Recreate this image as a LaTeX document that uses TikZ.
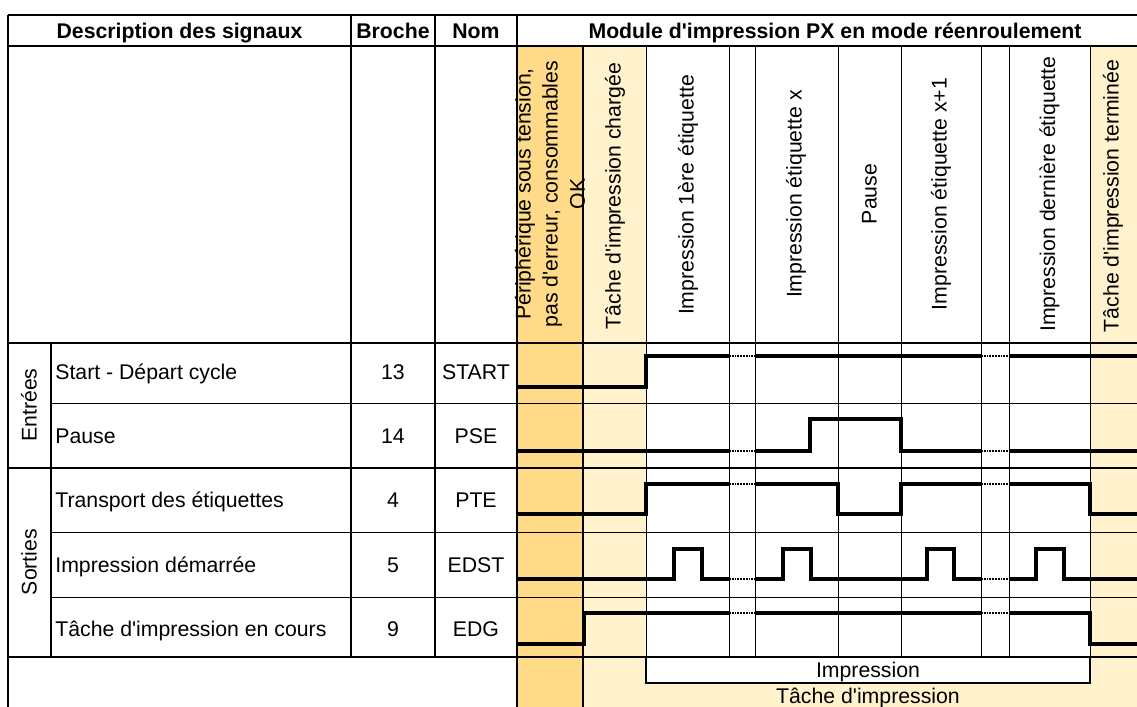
\documentclass[tikz,border=0pt]{standalone}
\usepackage{fontspec}
\setmainfont{Liberation Sans}[Ligatures=TeXOff]
\usepackage{tikz}

\definecolor{phaseorange}{RGB}{255,218,136}
\definecolor{phaselight}{RGB}{255,242,204}

\begin{document}
\begin{tikzpicture}[x=0.02cm,y=-0.02cm,
  every node/.style={font=\fontsize{12.1pt}{15.4pt}\selectfont,inner sep=0pt},
  thinrule/.style={line width=0.55pt},
  thickrule/.style={line width=1.15pt},
  sig/.style={line width=1.75pt,line join=miter},
  gapsig/.style={line width=1.4pt,dash pattern=on 1pt off 0.6pt},
  vtext/.style={rotate=90},
  headtext/.style={anchor=base,font=\fontsize{12.1pt}{15.4pt}\selectfont\bfseries}]
\useasboundingbox (0,0) rectangle (1137,707);
% draw phase backgrounds
\fill[phaseorange] (517,46) rectangle (583,707);
\fill[phaselight] (583,46) rectangle (646,707);
\fill[phaselight] (1090,46) rectangle (1137,707);
\fill[phaselight] (646,657) rectangle (1090,707);
% draw table rows
\foreach \y in {15,46,343,468,657}{
	\draw[thickrule] (8,\y) -- (1137,\y);
}
\foreach \y in {403,532,597}{
	\draw[thinrule] (51,\y) -- (1137,\y);
}
% draw table columns
\draw[thickrule] (8,15) -- (8,707);
\draw[thickrule] (351,15) -- (351,657);
\draw[thickrule] (435,15) -- (435,657);
\draw[thickrule] (517,15) -- (517,707);
\draw[thickrule] (583,46) -- (583,707);
\draw[thickrule] (51,343) -- (51,657);
\foreach \x in {646,729,755,838,901,981,1009,1090}{
	\draw[thinrule] (\x,46) -- (\x,657);
}
% draw header
\draw (179.5,38) node[headtext] (hdesc) {Description des signaux};
\draw (393,38) node[headtext] (hpin) {Broche};
\draw (476,38) node[headtext] (hname) {Nom};
\draw (835,38) node[headtext] (hmodule) {Module d'impression PX en mode réenroulement};
% draw phase description
\draw (550,194) node[vtext,align=center] (phon) {Périphérique sous tension,\\pas d'erreur, consommables\\OK};
\draw (615,196) node[vtext] (phload) {Tâche d'impression chargée};
\draw (688,195) node[vtext] (phfirst) {Impression 1ère étiquette};
\draw (796,194) node[vtext] (phx) {Impression étiquette x};
\draw (869.5,194) node[vtext] (phpause) {Pause};
\draw (941,194) node[vtext] (phxnext) {Impression étiquette x+1};
\draw (1049.5,194) node[vtext] (phlast) {Impression dernière étiquette};
\draw (1113,196) node[vtext] (phend) {Tâche d'impression terminée};
% draw signal names
\draw (29,405) node[vtext] (grpin) {Entrées};
\draw (29,562) node[vtext] (grpout) {Sorties};
\foreach \y/\d/\p/\n/\id in {379/Start - Départ cycle/13/START/start,
	443/Pause/14/PSE/pse,
	507/Transport des étiquettes/4/PTE/pte,
	572/Impression démarrée/5/EDST/edst,
	636/Tâche d'impression en cours/9/EDG/edg}{
	\draw (55,\y) node[anchor=base west] (desc-\id) {\d};
	\draw (393,\y) node[anchor=base] (pin-\id) {\p};
	\draw (476,\y) node[anchor=base] (name-\id) {\n};
}
% draw signals
\draw[sig] (517,387) -- (646,387) -- (646,356) -- (729,356);
\draw[sig] (755,356) -- (981,356);
\draw[sig] (1009,356) -- (1137,356);
\draw[sig] (517,451) -- (729,451);
\draw[sig] (755,451) -- (810,451) -- (810,419) -- (901,419) -- (901,451) -- (981,451);
\draw[sig] (1009,451) -- (1137,451);
\draw[sig] (517,514) -- (646,514) -- (646,484) -- (729,484);
\draw[sig] (755,484) -- (838,484) -- (838,514) -- (901,514) -- (901,484) -- (981,484);
\draw[sig] (1009,484) -- (1090,484) -- (1090,514) -- (1137,514);
\draw[sig] (517,579) -- (674,579) -- (674,549) -- (702,549) -- (702,579) -- (729,579);
\draw[sig] (755,579) -- (783,579) -- (783,549) -- (811,549) -- (811,579) -- (927,579) -- (927,549) -- (954,549) -- (954,579) -- (981,579);
\draw[sig] (1009,579) -- (1036,579) -- (1036,549) -- (1064,549) -- (1064,579) -- (1137,579);
\draw[sig] (517,644) -- (584,644) -- (584,613) -- (729,613);
\draw[sig] (755,613) -- (981,613);
\draw[sig] (1009,613) -- (1090,613) -- (1090,644) -- (1137,644);
% dotted gaps
\foreach \y in {356,451,484,579,613}{
	\draw[gapsig] (729,\y) -- (755,\y);
	\draw[gapsig] (981,\y) -- (1009,\y);
}
% draw print periods
\draw[thickrule,fill=white] (646,657) rectangle (1090,683);
\draw (868,677) node[anchor=base] (lblprint) {Impression};
\draw (868,703) node[anchor=base] (lbljob) {Tâche d'impression};
\end{tikzpicture}
\end{document}
